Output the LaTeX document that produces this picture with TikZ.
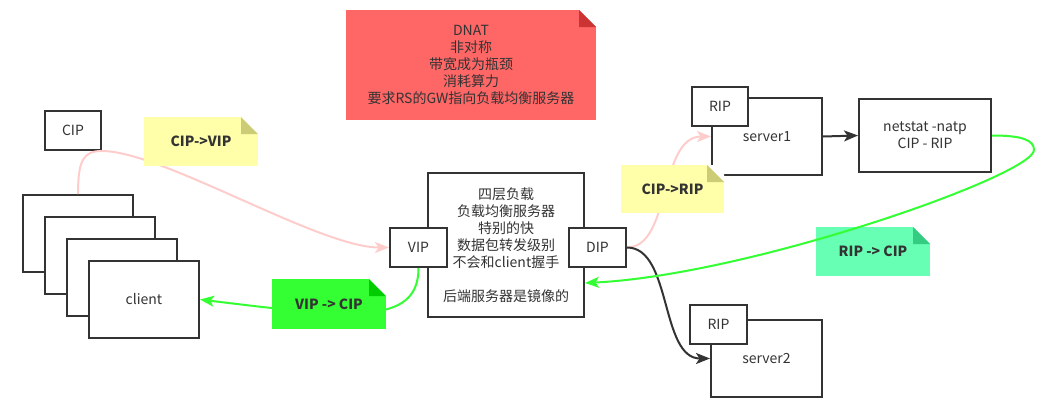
\documentclass[tikz,border=0pt]{standalone}
\usepackage{fontspec}
\setmainfont{Noto Sans CJK SC}
\usetikzlibrary{calc,arrows.meta}
\definecolor{ink}{HTML}{333333}
\definecolor{pinkline}{HTML}{FFCCCC}
\definecolor{greenline}{HTML}{33FF33}
\definecolor{notered}{HTML}{FF6666}
\definecolor{foldred}{HTML}{CC3333}
\definecolor{noteyel}{HTML}{FFFFAA}
\definecolor{foldyel}{HTML}{CCCC77}
\definecolor{notegrn}{HTML}{33FF33}
\definecolor{foldgrn}{HTML}{00CC00}
\definecolor{notemint}{HTML}{66FFB3}
\definecolor{foldmint}{HTML}{33CC80}
\begin{document}
\begin{tikzpicture}[x=1pt, y=-1pt, font=\fontsize{14}{17}\selectfont,
box/.style={draw=ink, fill=white, line width=2pt, text=ink, align=center, inner sep=0pt},
note/.style 2 args={fill=#1, text=ink, align=center, inner sep=0pt, path picture={
  \fill[white] (path picture bounding box.north east) -- ++(-17,0) -- ++(17,17) -- cycle;
  \fill[#2] (path picture bounding box.north east) ++(-17,0) -- ++(17,17) -- ++(-17,0) -- cycle;}},
myto/.style={-{Stealth[length=14pt,width=11pt,inset=3.5pt]}, line width=2pt}]
\useasboundingbox (0,0) rectangle (1043,410);
% clients
\node[box, minimum width=56pt, minimum height=39pt] (cip) at (73,130.5) {CIP};
\foreach \i/\x/\y in {1/78/233.5,2/100/255.5,3/122/277.5}{\node[box, minimum width=110pt, minimum height=77pt] (c\i) at (\x,\y) {};}
\node[box, minimum width=110pt, minimum height=77pt] (client) at (144,299.5) {client};
% load balancer
\node[box, minimum width=156pt, minimum height=144pt] (lb) at (506,245) {四层负载\\负载均衡服务器\\特别的快\\数据包转发级别\\不会和client握手\\~\\后端服务器是镜像的};
\node[box, minimum width=57pt, minimum height=39pt] (vip) at (418.5,247.5) {VIP};
\node[box, minimum width=57pt, minimum height=39pt] (dip) at (597.5,247.5) {DIP};
% servers
\node[box, minimum width=110pt, minimum height=77pt] (s1) at (767,136.5) {server1};
\node[box, minimum width=56pt, minimum height=39pt] (rip1) at (720,106.5) {RIP};
\node[box, minimum width=111pt, minimum height=77pt] (s2) at (766.5,358.5) {server2};
\node[box, minimum width=57pt, minimum height=39pt] (rip2) at (718.5,324.5) {RIP};
\node[box, minimum width=132pt, minimum height=73pt] (ns) at (925,135.5) {netstat -natp\\CIP - RIP};
% connectors
\draw[myto, pinkline] (c1.north) .. controls +(0,-35) and +(-18,0) .. (cip.south east) .. controls +(60,0) and +(-70,0) .. (vip.west);
\draw[myto, greenline] (vip.south) .. controls +(0,58) and +(151,18.5) .. (client.east);
\draw[myto, pinkline] (dip.east) .. controls +(44,0) and +(-52,0) .. (s1.west);
\draw[myto, ink] (dip.east) .. controls +(45,0) and +(-50,0) .. (s2.west);
\draw[myto, ink] (s1.east) -- (ns.west);
\node[note={notemint}{foldmint}, minimum width=114pt, minimum height=49pt, font=\fontsize{14}{17}\selectfont\bfseries] (ripcip) at (873,251.5) {RIP -> CIP};
\coordinate (loop) at (1034,150);
\draw[myto, greenline] (ns.east) .. controls +(30,0) and +(0,-10) .. (loop) .. controls +(0,25) and +(165,-8) .. ($(lb.east)+(0,38)$);
% notes
\node[note={notered}{foldred}, minimum width=250pt, minimum height=110pt] (dnat) at (471,65) {DNAT\\非对称\\带宽成为瓶颈\\消耗算力\\要求RS的GW指向负载均衡服务器};
\node[note={noteyel}{foldyel}, minimum width=114pt, minimum height=49pt, font=\fontsize{14}{17}\selectfont\bfseries] (cipvip) at (201,141.5) {CIP->VIP};
\node[note={notegrn}{foldgrn}, minimum width=114pt, minimum height=50pt, font=\fontsize{14}{17}\selectfont\bfseries] (vipcip) at (329,304) {VIP -> CIP};
\node[note={noteyel}{foldyel}, minimum width=103pt, minimum height=48pt, font=\fontsize{14}{17}\selectfont\bfseries] (ciprip) at (672.5,189) {CIP->RIP};
\end{tikzpicture}
\end{document}
